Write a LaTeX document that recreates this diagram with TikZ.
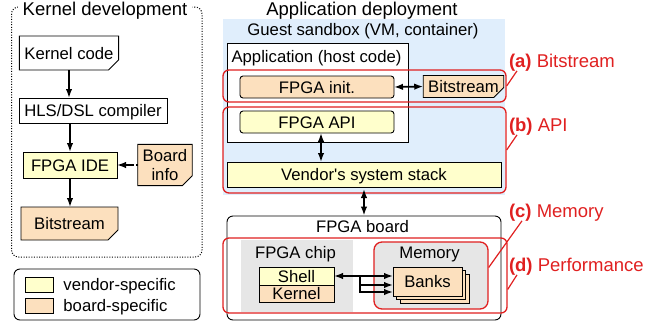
\documentclass[tikz,border=0pt]{standalone}
\usepackage{fontspec}
\setmainfont{Liberation Sans}
\usetikzlibrary{shapes.misc,arrows.meta,calc}
\definecolor{vendorfill}{HTML}{FFFFCC}
\definecolor{boardfill}{HTML}{FCE0BE}
\definecolor{sandboxfill}{HTML}{E0EEFC}
\definecolor{chipfill}{HTML}{E6E6E6}
\definecolor{markred}{HTML}{E02020}
\begin{document}
\begin{tikzpicture}[x=1pt,y=-1pt,
  txt/.style={font=\fontsize{16.7}{19}\selectfont, inner sep=0pt, outer sep=0pt},
  captext/.style={txt, text height=12pt, text depth=0pt},
  big/.style={font=\fontsize{18.5}{20}\selectfont, inner sep=0pt, outer sep=0pt},
  span/.style n args={4}{at={({(#1+#3)/2},{(#2+#4)/2})},
    minimum width={(#3)-(#1)}, minimum height={(#4)-(#2)}},
  outlined/.style={draw, line width=0.9pt},
  region/.style={draw=none, inner sep=0pt},
  vendor/.style={captext, outlined, fill=vendorfill},
  boardbox/.style={captext, outlined, fill=boardfill},
  doc/.style={txt, outlined, chamfered rectangle, chamfered rectangle corners=south east,
    chamfered rectangle sep=5pt,
    path picture={\draw[line width=0.7pt]
      ([xshift=-5pt]path picture bounding box.south east) -- ++(1.5pt,3.5pt) -- ++(3.5pt,1.5pt);}},
  issuebox/.style={draw=markred, line width=1.3pt, rounded corners=6pt, inner sep=0pt},
  arr/.style={line width=1.7pt, -{Latex[length=9pt,width=6.5pt]}},
  biarr/.style={line width=1.7pt, {Latex[length=9pt,width=6.5pt]}-{Latex[length=9pt,width=6.5pt]}},
  leader/.style={draw=markred, line width=1.2pt},
  issuetag/.style={big, text=markred, anchor=base west},
]
\useasboundingbox (0,0) rectangle (659,325);

% ---------------- Kernel development ----------------
\node[draw, line width=1pt, dash pattern=on 1pt off 1.6pt, rounded corners=7pt,
      span={11.5}{7}{202}{257}] (kframe) {};
\node[big, anchor=base, fill=white, inner xsep=5pt] (ktitle) at (105,15.5) {Kernel development};

\node[doc, captext, fill=white, span={21}{36}{117}{70}] (kcode) {Kernel code};
\node[captext, outlined, fill=white, span={19}{98}{167}{123}] (hls) {HLS/DSL compiler};
\node[vendor, span={23}{152}{117}{178}] (ide) {FPGA IDE};
\node[doc, fill=boardfill, align=center, span={138}{145}{192}{185}] (binfo) {Board\\info};
\node[doc, captext, fill=boardfill, span={21}{207}{118}{240}] (kbit) {Bitstream};

\draw[arr] (kcode.south) -- (kcode.south |- hls.north);
\draw[arr] (ide.north |- hls.south) -- (ide.north);
\draw[arr] (ide.south) -- (ide.south |- kbit.north);
\draw[arr, dash pattern=on 1.5pt off 2.5pt on 40pt] (binfo.west) -- (ide.east);

% ---------------- Legend ----------------
\node[outlined, rounded corners=6pt, span={14}{269}{200}{320}] (legend) {};
\node[outlined, fill=vendorfill, span={25}{277}{53}{292}] (keyv) {};
\node[outlined, fill=boardfill, span={25}{298}{53}{313}] (keyb) {};
\node[captext, anchor=west, xshift=10pt] (keyvtxt) at (keyv.east) {vendor-specific};
\node[captext, anchor=west, xshift=10pt] (keybtxt) at (keyb.east) {board-specific};

% ---------------- Application deployment ----------------
\node[big, anchor=base] (atitle) at (362,15.5) {Application deployment};
\node[region, fill=sandboxfill, span={223}{19}{505}{195}] (sandbox) {};
\node[txt, anchor=base] (sandboxlbl) at (363,35) {Guest sandbox (VM, container)};
\node[outlined, fill=white, span={227}{43}{408}{142}] (app) {};
\node[txt, anchor=base] (applbl) at (316.5,62) {Application (host code)};
\node[issuebox, span={223}{70}{506}{102}] (redA) {};
\node[issuebox, span={223}{107}{506}{193}] (redB) {};
\node[boardbox, rounded corners=3pt, span={240}{76}{394}{98}] (init) {FPGA init.};
\node[doc, captext, fill=boardfill, span={424}{76}{503}{97}] (rbit) {Bitstream};
\node[vendor, rounded corners=3pt, span={240}{111}{394}{133}] (api) {FPGA API};
\node[vendor, span={227}{162}{501}{187}] (vstack) {Vendor\textquotesingle s system stack};

\draw[biarr] (init.east) -- (rbit.west);
\draw[biarr] ([xshift=4pt]api.south) -- ([xshift=4pt]api.south |- vstack.north);

% ---------------- FPGA board ----------------
\node[outlined, fill=white, rounded corners=6pt, span={227}{216}{501}{320}] (fboard) {};
\node[txt, anchor=base] (fboardlbl) at (362.5,232) {FPGA board};
\node[issuebox, span={223}{238}{507}{313}] (redD) {};
\node[region, fill=chipfill, span={241}{240}{353}{312}] (chip) {};
\node[txt, anchor=base] (chiplbl) at (295.5,258) {FPGA chip};
\node[vendor, span={259}{267}{334}{285}] (shell) {Shell};
\node[boardbox, span={259}{285}{334}{302}] (kern) {Kernel};
\node[issuebox, fill=chipfill, rounded corners=8pt, span={374}{242}{488}{309}] (memory) {};
\node[txt, anchor=base] (memlbl) at (429.5,258) {Memory};
\node[boardbox, span={400}{274}{469}{303}] (bank3) {};
\node[boardbox, span={396.5}{270.5}{465.5}{299.5}] (bank2) {};
\node[boardbox, span={393}{267}{462}{296}] (banks) {Banks};

\draw[biarr, shorten <=2pt] (vstack.south) -- (fboard.north);

\coordinate (fork) at (360,276);
\coordinate (bankin2) at (393,285);
\coordinate (bankin3) at (393,292);
\draw[biarr] (shell.east) -- (shell.east -| banks.west);
\draw[arr] (fork) |- (bankin2);
\draw[arr] (fork) |- (bankin3);

% ---------------- Issue tags ----------------
\node[issuetag] (tagA) at (509,67) {\textbf{(a)} Bitstream};
\node[issuetag] (tagB) at (509,131) {\textbf{(b)} API};
\node[issuetag] (tagC) at (509,217) {\textbf{(c)} Memory};
\node[issuetag] (tagD) at (509,271) {\textbf{(d)} Performance};

\draw[leader] ([xshift=8pt]tagA.south west) -- (redA.east);
\draw[leader] ([xshift=8pt]tagB.south west) -- (redB.east);
\draw[leader] ([xshift=13pt]tagC.south west) -- ($(memory.east)+(0,-8)$);
\draw[leader] ([xshift=8pt]tagD.south west) -- ($(redD.east)+(0,14)$);
\end{tikzpicture}
\end{document}
